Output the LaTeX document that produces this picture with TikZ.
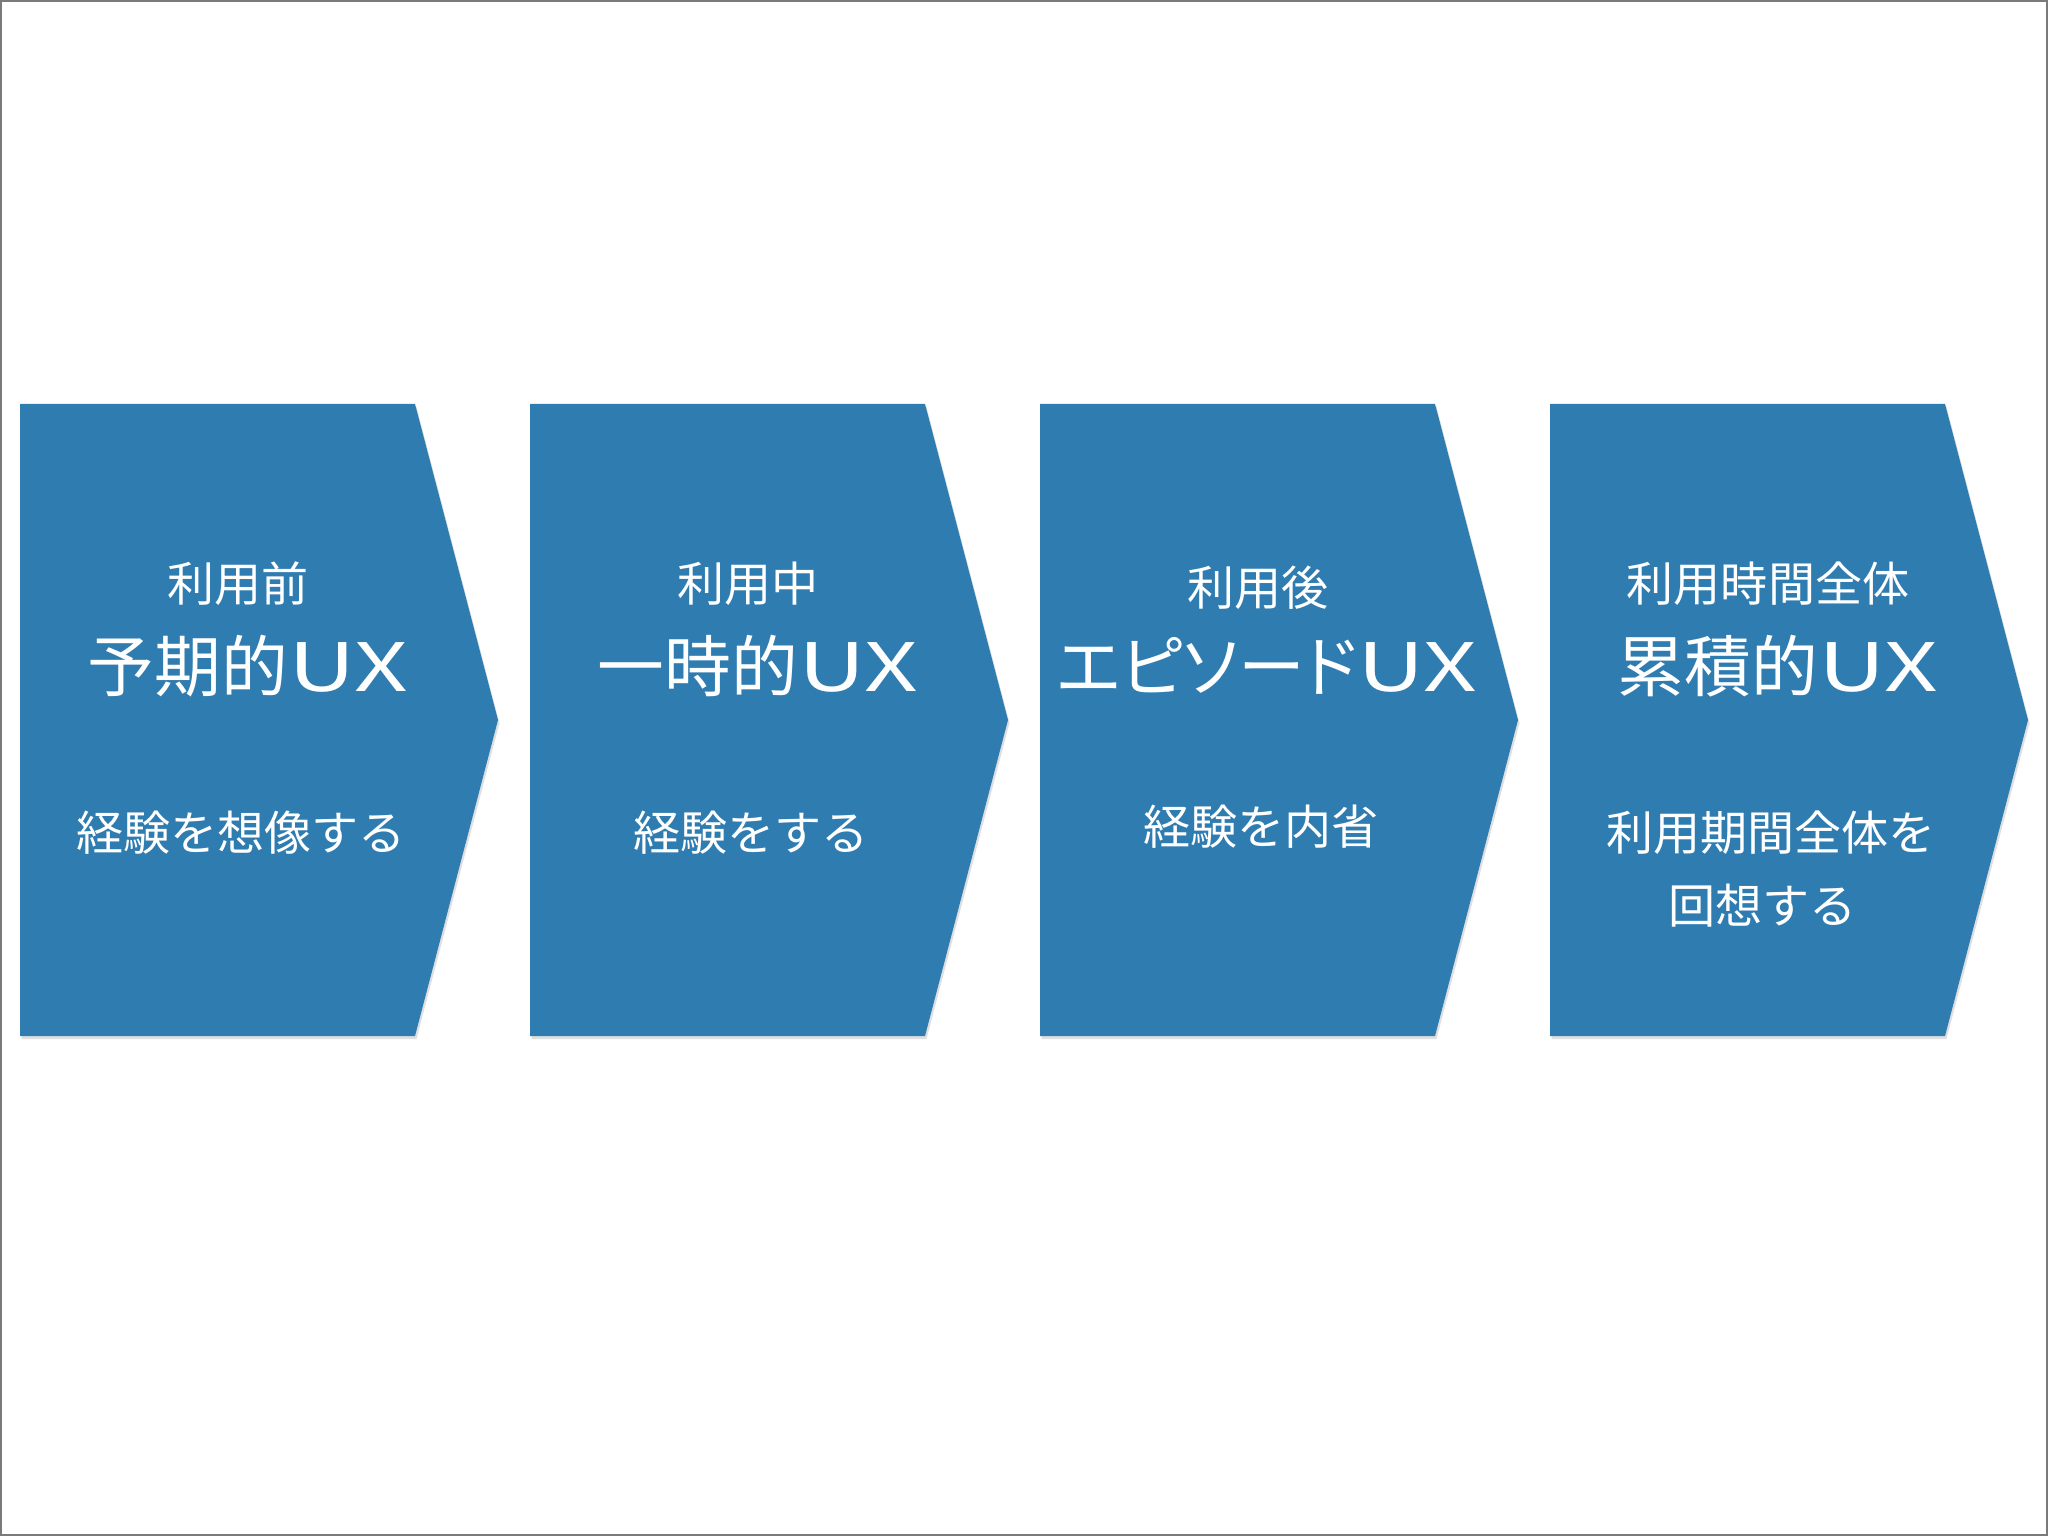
\documentclass[tikz,border=0pt]{standalone}
\usepackage{fontspec}
\newfontfamily\jpfont{Noto Sans CJK JP}
\usepackage{xcolor}
\definecolor{StepBlue}{HTML}{2F7CB1}
\definecolor{Frame}{HTML}{7A7A7A}
\usetikzlibrary{shadows}
\newcommand\wideux{\scalebox{1.4}[1]{UX}}
\tikzset{
  chevron/.style={fill=StepBlue,drop shadow={shadow xshift=0.15mm,shadow yshift=-0.3mm,opacity=0.25}},
  phase/.style={text=white,font=\jpfont\fontsize{13.4}{20.5}\selectfont,align=center,inner sep=0pt},
  uxname/.style={phase,font=\jpfont\fontsize{19}{22}\selectfont}
}

\begin{document}
\begin{tikzpicture}[x=0.1mm,y=0.1mm]
\useasboundingbox (0,0) rectangle (2048,1536);
\fill[white] (0,0) rectangle (2048,1536);
\draw[Frame,line width=0.2mm] (1,1) rectangle (2047,1535);
% four stages
\foreach \i in {1,...,4}{
  \pgfmathsetmacro\xl{20+510*(\i-1)}
  \fill[chevron] (\xl,1132) -- ++(395,0) -- ++(83,-316) -- ++(-83,-316) -- ++(-395,0) -- cycle;
}
\node[phase] (phase1) at (238,952) {利用前};
\node[uxname] (ux1) at (248,870) {予期的\wideux};
\node[phase] (act1) at (241,703) {経験を想像する};
\node[phase] (phase2) at (748,952) {利用中};
\node[uxname] (ux2) at (758,870) {一時的\wideux};
\node[phase] (act2) at (751,703) {経験をする};
\node[phase] (phase3) at (1258,948) {利用後};
\node[uxname] (ux3) at (1267,870) {\addfontfeatures{RawFeature=+palt}エピソード\wideux};
\node[phase] (act3) at (1261,709) {経験を内省};
\node[phase] (phase4) at (1768,952) {利用時間全体};
\node[uxname] (ux4) at (1778,870) {累積的\wideux};
\node[phase] (act4) at (1771,667) {利用期間全体を\\回想する\hspace*{5pt}};
\end{tikzpicture}
\end{document}
